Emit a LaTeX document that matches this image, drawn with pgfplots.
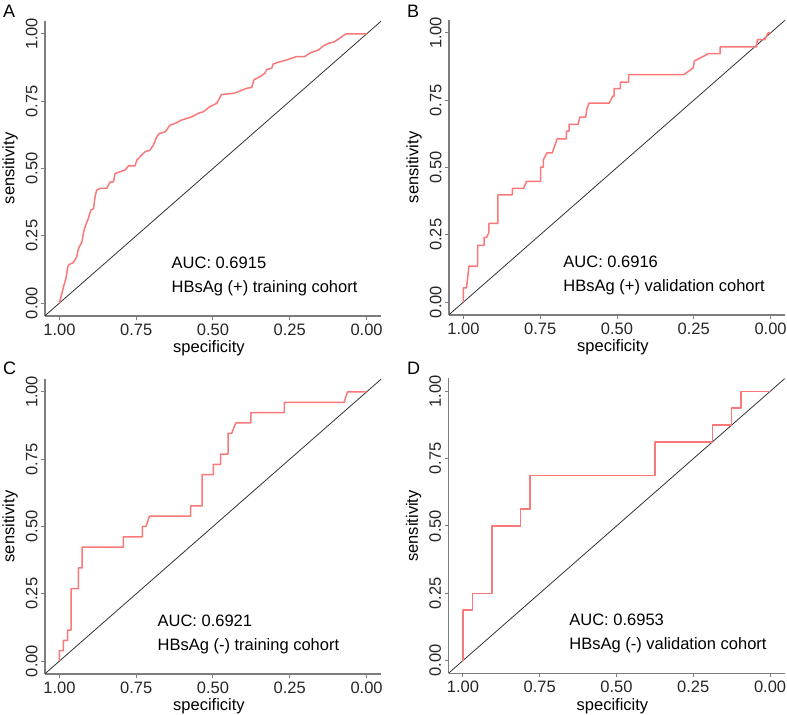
\documentclass[border=0pt]{standalone}
\usepackage{fontspec}
\setmainfont{Liberation Sans}
\usepackage{pgfplots}
\pgfplotsset{compat=1.18}
\definecolor{roc}{RGB}{250,120,120}
\definecolor{axgray}{RGB}{125,125,125}
\newcommand{\fs}{\fontsize{16.5bp}{19.8bp}\selectfont}
\pgfplotsset{
 rocax/.style={
  scale only axis, width=336bp, height=295bp,
  x dir=reverse,
  xmin=-0.047, xmax=1.047, ymin=-0.048, ymax=1.048,
  axis x line*=bottom, axis y line*=left,
  axis line style={axgray, line width=1.2bp, -},
  xtick={0,0.25,0.5,0.75,1}, xticklabels={0.00,0.25,0.50,0.75,1.00},
  ytick={0,0.25,0.5,0.75,1}, yticklabels={0.00,0.25,0.50,0.75,1.00},
  tick align=outside, major tick length=4bp,
  tick style={axgray, line width=1bp},
  tick label style={font=\fs, text=black!85},
  yticklabel style={rotate=90, anchor=south},
  xlabel={specificity}, ylabel={sensitivity},
  label style={font=\fs},
  xlabel style={at={(axis description cs:0.488,0)}, anchor=base, yshift=-36.7bp},
  ylabel style={at={(axis description cs:-0.104,0.5)}, anchor=center},
  clip=true,
 },
 diag/.style={black!80, line width=0.8bp},
 curve/.style={roc, line width=1.5bp, line join=round},
}
\begin{document}
\begin{tikzpicture}[x=1bp,y=1bp]
\useasboundingbox (0,0) rectangle (787,715);
% Panel A
\begin{axis}[rocax, at={(45bp,399bp)}, anchor=south west]
\addplot[diag] coordinates {(1.2,-0.2) (-0.2,1.2)};
\addplot[curve] coordinates {
(1.000,0.000) (0.992,0.035) (0.987,0.060) (0.979,0.090) (0.973,0.134) (0.969,0.143)
(0.955,0.150) (0.944,0.171) (0.938,0.202) (0.927,0.227) (0.920,0.270) (0.913,0.295)
(0.906,0.314) (0.898,0.345) (0.889,0.351) (0.884,0.395) (0.879,0.419) (0.868,0.426)
(0.846,0.426) (0.835,0.450) (0.824,0.450) (0.819,0.481) (0.803,0.488) (0.786,0.494)
(0.775,0.510) (0.754,0.510) (0.748,0.531) (0.732,0.550) (0.721,0.562) (0.705,0.568)
(0.694,0.587) (0.683,0.618) (0.675,0.630) (0.656,0.636) (0.640,0.661) (0.624,0.667)
(0.602,0.680) (0.569,0.692) (0.548,0.705) (0.531,0.711) (0.510,0.730) (0.488,0.742)
(0.472,0.775) (0.434,0.779) (0.418,0.785) (0.390,0.798) (0.374,0.801) (0.367,0.829)
(0.347,0.841) (0.331,0.854) (0.325,0.868) (0.309,0.872) (0.304,0.888) (0.287,0.895)
(0.260,0.903) (0.228,0.916) (0.201,0.916) (0.179,0.932) (0.157,0.940) (0.141,0.955)
(0.125,0.965) (0.108,0.969) (0.092,0.980) (0.076,0.994) (0.065,1.000) (0.000,1.000)};
\node[anchor=base west, inner sep=0, font=\fs] at (axis cs:0.635,0.130) {AUC: 0.6915};
\node[anchor=base west, inner sep=0, font=\fs] at (axis cs:0.635,0.041) {HBsAg (+) training cohort};
\end{axis}
% Panel B
\begin{axis}[rocax, at={(449bp,400bp)}, anchor=south west]
\addplot[diag] coordinates {(1.2,-0.2) (-0.2,1.2)};
\addplot[curve] coordinates {
(1.000,0.000) (1.000,0.053) (0.990,0.053) (0.982,0.134) (0.954,0.134) (0.954,0.211)
(0.933,0.211) (0.933,0.240) (0.925,0.240) (0.917,0.258) (0.917,0.292) (0.888,0.292)
(0.888,0.398) (0.841,0.398) (0.841,0.422) (0.804,0.422) (0.795,0.448) (0.749,0.448)
(0.749,0.501) (0.740,0.501) (0.740,0.528) (0.728,0.554) (0.711,0.554) (0.695,0.606)
(0.665,0.606) (0.665,0.635) (0.656,0.635) (0.656,0.660) (0.627,0.660) (0.621,0.687)
(0.602,0.687) (0.598,0.718) (0.591,0.739) (0.525,0.739) (0.514,0.765) (0.509,0.765)
(0.509,0.793) (0.489,0.793) (0.489,0.817) (0.462,0.817) (0.462,0.845) (0.282,0.845)
(0.252,0.870) (0.248,0.896) (0.202,0.923) (0.164,0.923) (0.164,0.948) (0.046,0.948)
(0.043,0.975) (0.019,0.975) (0.008,1.000) (0.000,1.000)};
\node[anchor=base west, inner sep=0, font=\fs] at (axis cs:0.675,0.130) {AUC: 0.6916};
\node[anchor=base west, inner sep=0, font=\fs] at (axis cs:0.675,0.0385) {HBsAg (+) validation cohort};
\end{axis}
% Panel C
\begin{axis}[rocax, at={(45bp,41bp)}, anchor=south west]
\addplot[diag] coordinates {(1.2,-0.2) (-0.2,1.2)};
\addplot[curve] coordinates {
(1.000,0.000) (1.000,0.0385) (0.987,0.0385) (0.987,0.0769) (0.973,0.0769) (0.973,0.1154)
(0.962,0.1154) (0.962,0.2692) (0.938,0.2692) (0.938,0.3462) (0.926,0.3462) (0.926,0.4231)
(0.792,0.4231) (0.792,0.4615) (0.730,0.4615) (0.730,0.5000) (0.718,0.5000) (0.707,0.5385)
(0.573,0.5385) (0.573,0.5769) (0.535,0.5769) (0.535,0.6923) (0.499,0.6923) (0.499,0.7308)
(0.475,0.7308) (0.475,0.7692) (0.451,0.7692) (0.451,0.8462) (0.439,0.8462) (0.426,0.8846)
(0.377,0.8846) (0.377,0.9231) (0.268,0.9231) (0.268,0.9615) (0.073,0.9615) (0.062,1.000)
(0.000,1.000)};
\node[anchor=base west, inner sep=0, font=\fs] at (axis cs:0.681,0.130) {AUC: 0.6921};
\node[anchor=base west, inner sep=0, font=\fs] at (axis cs:0.681,0.041) {HBsAg (-) training cohort};
\end{axis}
% Panel D
\begin{axis}[rocax, at={(448.5bp,41.5bp)}, anchor=south west]
\addplot[diag] coordinates {(1.2,-0.2) (-0.2,1.2)};
\addplot[curve] coordinates {
(1.000,0.000) (1.000,0.1875) (0.969,0.1875) (0.969,0.2500) (0.906,0.2500) (0.906,0.5000)
(0.8125,0.5000) (0.8125,0.5625) (0.781,0.5625) (0.781,0.6875) (0.375,0.6875) (0.375,0.8125)
(0.1875,0.8125) (0.1875,0.875) (0.125,0.875) (0.125,0.9375) (0.094,0.9375) (0.094,1.000)
(0.000,1.000)};
\node[anchor=base west, inner sep=0, font=\fs] at (axis cs:0.654,0.130) {AUC: 0.6953};
\node[anchor=base west, inner sep=0, font=\fs] at (axis cs:0.654,0.041) {HBsAg (-) validation cohort};
\end{axis}
% Panel letters
\node[anchor=base west, inner sep=0, font=\fontsize{18bp}{21bp}\selectfont] at (3,697) {A};
\node[anchor=base west, inner sep=0, font=\fontsize{18bp}{21bp}\selectfont] at (407,697) {B};
\node[anchor=base west, inner sep=0, font=\fontsize{18bp}{21bp}\selectfont] at (3,340) {C};
\node[anchor=base west, inner sep=0, font=\fontsize{18bp}{21bp}\selectfont] at (407,340) {D};
\end{tikzpicture}
\end{document}
